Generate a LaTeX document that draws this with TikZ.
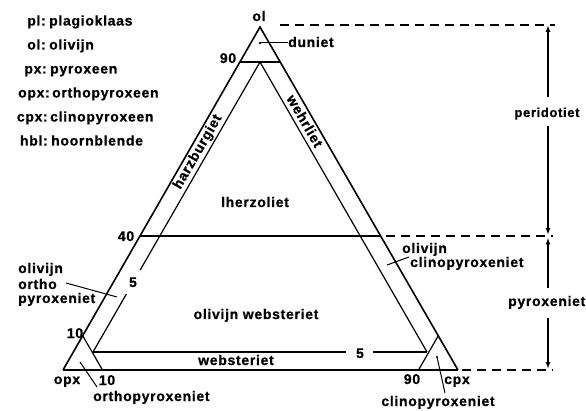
\documentclass[tikz,border=0pt]{standalone}
\usepackage{fontspec}
\setmainfont{Liberation Sans}[LetterSpace=5, BoldFeatures={FakeBold=0.7}]
\usetikzlibrary{arrows.meta}
\begin{document}
\begin{tikzpicture}[x=1pt,y=-1pt,
  lbl/.style={font=\fontsize{14}{16}\selectfont\bfseries, inner sep=0pt},
  smlbl/.style={font=\fontsize{13}{15}\selectfont\bfseries, inner sep=0pt},
  outerln/.style={line width=1.6pt},
  innerln/.style={line width=1.2pt},
  leader/.style={line width=1pt},
  dashln/.style={line width=1.3pt, dash pattern=on 9pt off 6pt},
  dimarr/.style={line width=1.4pt, -{Latex[length=7pt,width=5pt]}}
]
\useasboundingbox (0,0) rectangle (586,411);
% corners
\coordinate (A) at (260,27);
\coordinate (O) at (63,370);
\coordinate (C) at (458,370);
\coordinate (IA) at (260,62);
\coordinate (IL) at (93,352);
\coordinate (IR) at (427,352);
% outer triangle
\draw[outerln, line join=miter] (O) -- (A) -- (C);
\draw[line width=2.2pt] (O) -- (C);
% 90 line
\coordinate (n90l) at (239.8,62);
\coordinate (n90r) at (280.2,62);
\draw[line width=1.8pt] (n90l) -- (n90r);
% inner lines
\coordinate (g1) at (140.2,270);
\coordinate (g2) at (126.4,294);
\draw[innerln] (IA) -- (g1);
\draw[innerln] (g2) -- (IL);
\draw[innerln] (IA) -- (IR);
\coordinate (b1) at (346,352);
\coordinate (b2) at (373,352);
\draw[innerln] (IL) -- (b1);
\draw[innerln] (b2) -- (IR);
% 40 line
\coordinate (f1) at (139.7,236);
\coordinate (f2) at (380.3,236);
\coordinate (f3) at (386,236);
\coordinate (f4) at (553,236);
\draw[innerln] (f1) -- (f2);
\draw[dashln] (f3) -- (f4);
% 10 lines
\coordinate (t1) at (82.7,335.7);
\coordinate (t2) at (102.5,370);
\coordinate (t3) at (418.5,370);
\coordinate (t4) at (438.3,335.7);
\draw[innerln] (t1) -- (t2);
\draw[innerln] (t3) -- (t4);
% dashed lines
\coordinate (d1) at (280,25);
\coordinate (d2) at (555,25);
\coordinate (d3) at (462,370);
\coordinate (d4) at (553,370);
\draw[dashln] (d1) -- (d2);
\draw[dashln] (d3) -- (d4);
% legend
\node[lbl, anchor=base east] (k1) at (46,25.5) {pl:};
\node[lbl, anchor=base west] (v1) at (49,25.5) {plagioklaas};
\node[lbl, anchor=base east] (k2) at (46,49.5) {ol:};
\node[lbl, anchor=base west] (v2) at (49,49.5) {olivijn};
\node[lbl, anchor=base east] (k3) at (47,73.5) {px:};
\node[lbl, anchor=base west] (v3) at (50,73.5) {pyroxeen};
\node[lbl, anchor=base east] (k4) at (50,97.5) {opx:};
\node[lbl, anchor=base west] (v4) at (52,97.5) {orthopyroxeen};
\node[lbl, anchor=base east] (k5) at (48,121.5) {cpx:};
\node[lbl, anchor=base west] (v5) at (50,121.5) {clinopyroxeen};
\node[lbl, anchor=base east] (k6) at (48,145.5) {hbl:};
\node[lbl, anchor=base west] (v6) at (51,145.5) {hoornblende};
% triangle labels
\node[lbl, anchor=base] (lol) at (259,21) {ol};
\node[lbl, anchor=base] (l90a) at (228,63) {90};
\node[lbl, anchor=base west] (ldun) at (288,47) {duniet};
\coordinate (ddot) at (260,43);
\fill (ddot) circle (1.3pt);
\draw[leader] (ddot) -- (ldun.west |- ddot);
\node[lbl, anchor=base] (l40) at (126,241) {40};
\node[lbl, anchor=base] (l5a) at (133,287) {5};
\node[lbl, anchor=base] (l10a) at (75,338) {10};
\node[lbl, anchor=base] (lopx) at (67,384) {opx};
\node[lbl, anchor=base] (l10b) at (107,385) {10};
\node[lbl, anchor=base west] (lorth) at (93,401) {orthopyroxeniet};
\coordinate (oa) at (80,362);
\coordinate (ob) at (97,387);
\draw[leader] (oa) -- (ob);
\node[lbl, anchor=base] (llhz) at (255,207) {lherzoliet};
\node[lbl, anchor=base] (lolw) at (256,319) {olivijn websteriet};
\node[lbl, anchor=base] (lweb) at (236,365) {websteriet};
\node[lbl, anchor=base] (l5b) at (360,358) {5};
\node[lbl, anchor=base] (l90b) at (412,384) {90};
\node[lbl, anchor=base] (lcpx) at (457,384) {cpx};
\node[lbl, anchor=base] (lclin) at (438,406) {clinopyroxeniet};
\coordinate (cdot) at (437,357);
\coordinate (cb) at (445,393);
\fill (cdot) circle (1.2pt);
\draw[leader] (cdot) -- (cb);
\node[lbl, anchor=base west] (lolr) at (402,253) {olivijn};
\node[lbl, anchor=base west] (lclr) at (410,267) {clinopyroxeniet};
\coordinate (ra) at (387,265);
\coordinate (rb) at (409,257);
\draw[leader] (ra) -- (rb);
\node[lbl, anchor=base west] (loll) at (18,273) {olivijn};
\node[lbl, anchor=base west] (lortl) at (18,289) {ortho};
\node[lbl, anchor=base west] (lpyl) at (18,303) {pyroxeniet};
\coordinate (la) at (66,283);
\coordinate (lb) at (117,297);
\draw[leader] (la) -- (lb);
\node[lbl, rotate=60] (lharz) at (198,152) {harzburgiet};
\node[lbl, rotate=-60] (lwehr) at (305,121) {wehrliet};
% dimension labels and arrows
\node[smlbl, anchor=base] (lper) at (547,117) {peridotiet};
\node[lbl, anchor=base west] (lpyr) at (508,306) {pyroxeniet};
\coordinate (p1) at (548,25);
\coordinate (p2) at (548,97);
\coordinate (p3) at (548,126);
\coordinate (p4) at (548,235);
\coordinate (p5) at (548,237.5);
\coordinate (p6) at (548,288);
\coordinate (p7) at (548,318);
\coordinate (p8) at (548,369);
\draw[dimarr] (p2) -- (p1);
\draw[dimarr] (p3) -- (p4);
\draw[dimarr] (p6) -- (p5);
\draw[dimarr] (p7) -- (p8);
\end{tikzpicture}
\end{document}
